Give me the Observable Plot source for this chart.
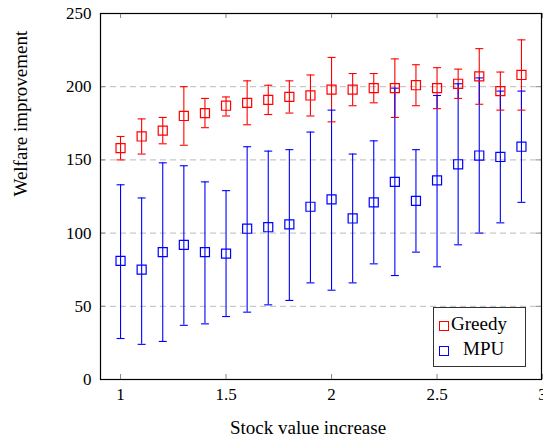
<!DOCTYPE html>
<html>
<head>
<meta charset="utf-8">
<script src="https://cdn.jsdelivr.net/npm/d3@7"></script>
<script src="https://cdn.jsdelivr.net/npm/@observablehq/plot@0.6"></script>
<style>
  html, body { margin: 0; padding: 0; background: #fff; }
  #wrap { position: relative; width: 543px; height: 440px; font-family: "Liberation Serif", "Times New Roman", Tinos, "DejaVu Serif", serif; }
  #legend { position: absolute; left: 433px; top: 307px; width: 93px; height: 60px; border: 1px solid #333; background: #fff; box-sizing: border-box; font-size: 19px; color: #000; }
  .row { position: absolute; left: 0; height: 22px; line-height: 22px; white-space: nowrap; }
  .sw { display: inline-block; width: 8px; height: 8px; border: 1px solid; vertical-align: middle; margin-right: 2px; }
</style>
</head>
<body>
<div id="wrap"></div>
<script>
const xs = [1.0, 1.1, 1.2, 1.3, 1.4, 1.5, 1.6, 1.7, 1.8, 1.9, 2.0, 2.1, 2.2, 2.3, 2.4, 2.5, 2.6, 2.7, 2.8, 2.9];
const greedy     = [158, 166, 170, 180, 182, 187, 189, 191, 193, 194, 198, 198, 199, 199, 201, 199, 202, 207, 197, 208];
const greedyLow  = [150, 154, 161, 160, 172, 180, 174, 181, 182, 180, 176, 187, 189, 179, 187, 185, 192, 188, 184, 184];
const greedyHigh = [166, 178, 179, 200, 192, 193, 204, 201, 204, 208, 220, 209, 209, 219, 215, 213, 212, 226, 210, 232];
const mpu     = [81, 75, 87, 92, 87, 86, 103, 104, 106, 118, 123, 110, 121, 135, 122, 136, 147, 153, 152, 159];
const mpuLow  = [28, 24, 26, 37, 38, 43, 46, 51, 54, 66, 61, 66, 79, 71, 87, 77, 92, 100, 107, 121];
const mpuHigh = [133, 124, 148, 146, 135, 129, 159, 156, 157, 169, 184, 154, 163, 199, 157, 194, 202, 206, 197, 197];
const xTicks = [1, 1.5, 2, 2.5, 3];
const yTicks = [0, 50, 100, 150, 200, 250];
const gridVals = [50, 100, 150, 200];
const seriesNames = ["Greedy", "MPU"];
const seriesColors = ["#ff0000", "#0000ff"];
const xLabel = "Stock value increase";
const yLabel = "Welfare improvement";

const FONT = '"Liberation Serif", "Times New Roman", Tinos, "DejaVu Serif", serif';
const W = 543, H = 440, mL = 100, mR = 2, mT = 13, mB = 61;
const innerH = H - mT - mB, innerW = W - mL - mR;
const tickLen = 5;

const rows = [];
[[greedy, greedyLow, greedyHigh], [mpu, mpuLow, mpuHigh]].forEach(([v, lo, hi], s) => {
  xs.forEach((x, i) => rows.push({series: seriesNames[s], x, y: v[i], lo: lo[i], hi: hi[i]}));
});

const capSymbol = { draw(ctx, size) { const r = Math.sqrt(size / Math.PI); ctx.moveTo(-r, 0); ctx.lineTo(r, 0); } };
const color = {domain: seriesNames, range: seriesColors};

const marks = [
  Plot.ruleY(gridVals, {y: d => d, stroke: "#bbbbbb", strokeDasharray: "6,4", strokeWidth: 1}),
  Plot.tickX(xTicks, {x: d => d, stroke: "#888", insetTop: innerH - tickLen}),
  Plot.tickX(xTicks, {x: d => d, stroke: "#888", insetBottom: innerH - tickLen}),
  Plot.tickY(yTicks, {y: d => d, stroke: "#888", insetRight: innerW - tickLen}),
  Plot.tickY(yTicks, {y: d => d, stroke: "#888", insetLeft: innerW - tickLen}),
  Plot.axisX(xTicks, {tickSize: 0, tickPadding: 8, fontSize: 17, fontFamily: FONT, fill: "#000", tickFormat: d => String(d), label: null}),
  Plot.axisY(yTicks, {tickSize: 0, tickPadding: 9, fontSize: 17, fontFamily: FONT, fill: "#000", label: null}),
  Plot.ruleX(rows, {x: "x", y1: "lo", y2: "hi", stroke: "series", strokeWidth: 1.1}),
  Plot.dot(rows, {x: "x", y: "lo", symbol: capSymbol, r: 4, stroke: "series", strokeWidth: 1.1}),
  Plot.dot(rows, {x: "x", y: "hi", symbol: capSymbol, r: 4, stroke: "series", strokeWidth: 1.1}),
  Plot.dot(rows, {x: "x", y: "y", symbol: "square", r: 5.1, stroke: "series", fill: "none", strokeWidth: 1.2}),
  Plot.frame({stroke: "#000", strokeWidth: 1.2}),
  Plot.text([xLabel], {text: d => d, frameAnchor: "bottom", dy: 54, dx: -13, fontSize: 19, fontFamily: FONT, fill: "#000"}),
  Plot.text([yLabel], {text: d => d, frameAnchor: "left", dx: -80, rotate: -90, fontSize: 19, fontFamily: FONT, fill: "#000"})
];

const chart = Plot.plot({
  width: W, height: H,
  marginLeft: mL, marginRight: mR, marginTop: mT, marginBottom: mB,
  style: {background: "#fff", fontFamily: FONT},
  x: {domain: [0.905, 2.995], axis: null},
  y: {domain: [0, 250], axis: null},
  color,
  marks
});

const wrap = document.getElementById("wrap");
wrap.appendChild(chart);
const legend = document.createElement("div");
legend.id = "legend";
seriesNames.forEach((name, i) => {
  const row = document.createElement("div");
  row.className = "row";
  row.style.top = (5 + i * 25) + "px";
  row.style.left = "5px";
  const sw = document.createElement("span");
  sw.className = "sw";
  sw.style.borderColor = seriesColors[i];
  const t = document.createElement("span");
  t.textContent = name;
  if (i === 1) t.style.marginLeft = "12px";
  row.appendChild(sw);
  row.appendChild(t);
  legend.appendChild(row);
});
wrap.appendChild(legend);
</script>
</body>
</html>
